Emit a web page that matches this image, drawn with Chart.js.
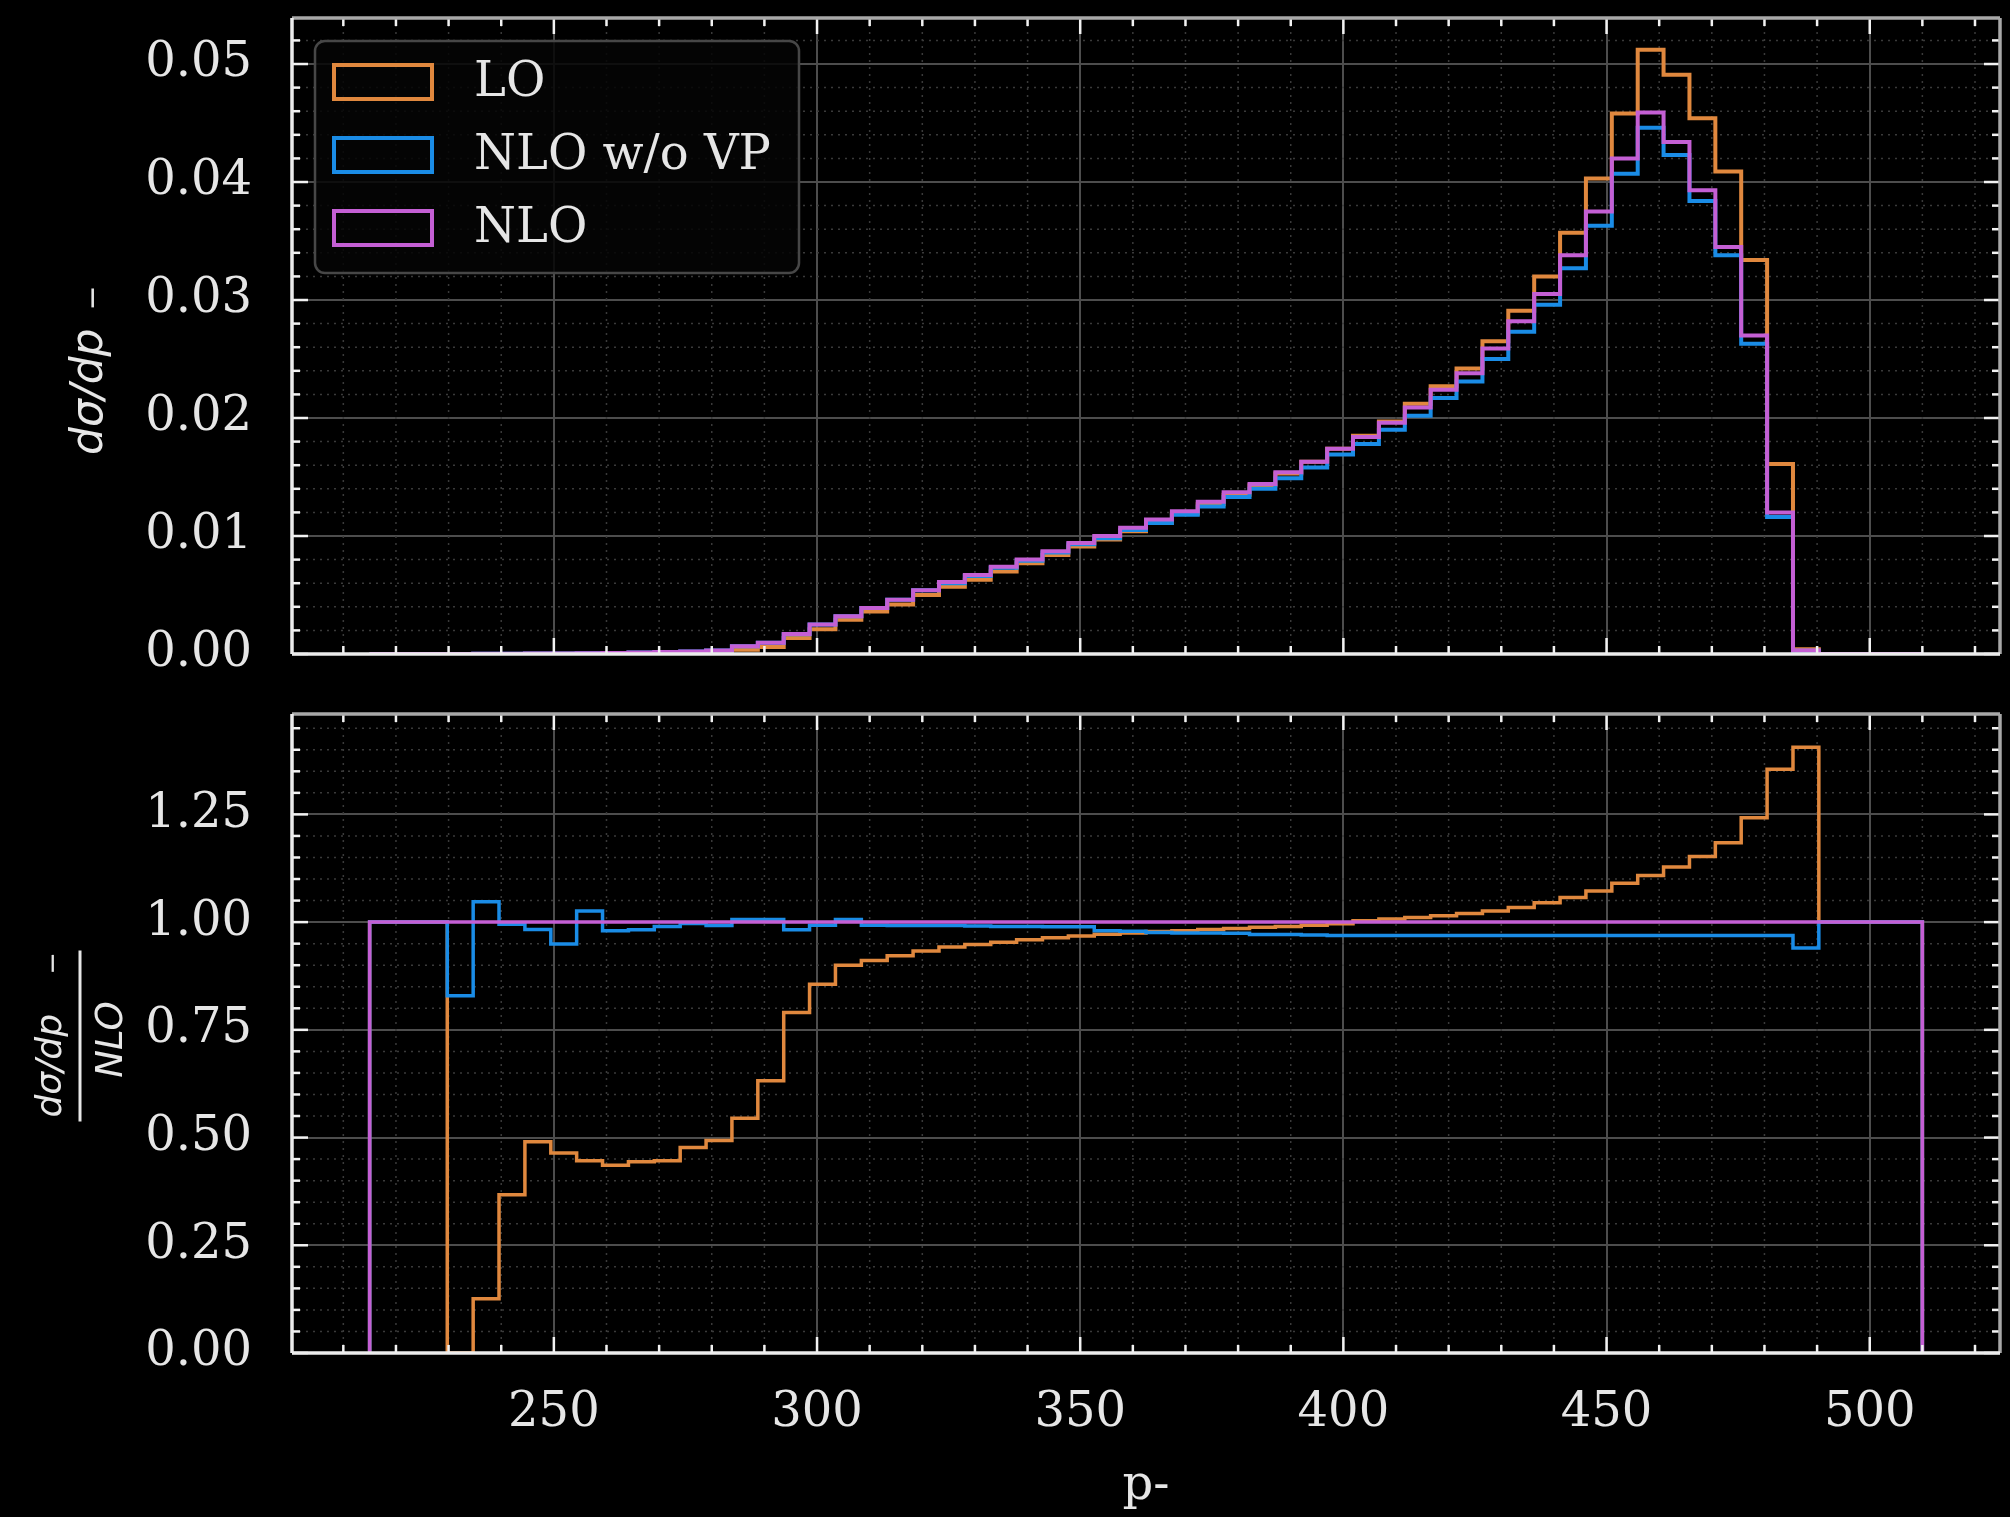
<!DOCTYPE html>
<html>
<head>
<meta charset="utf-8">
<script src="https://cdn.jsdelivr.net/npm/chart.js@4.4.1/dist/chart.umd.min.js"></script>
<style>
  html, body { margin: 0; padding: 0; background: #000; }
  #wrap { position: relative; width: 2010px; height: 1517px; background: #000; }
  #chartTop { position: absolute; left: 0; top: 0; }
  #chartRatio { position: absolute; left: 0; top: 690px; }
</style>
</head>
<body>
<div id="wrap">
  <canvas id="chartTop" width="2010" height="690"></canvas>
  <canvas id="chartRatio" width="2010" height="827"></canvas>
</div>
<script>
// bin edges in p- (60 bins between 215 and 510)
const binEdges = [
  215.00, 219.92, 224.83, 229.75, 234.67, 239.58, 244.50, 249.42, 254.33, 259.25,
  264.17, 269.08, 274.00, 278.92, 283.83, 288.75, 293.67, 298.58, 303.50, 308.42,
  313.33, 318.25, 323.17, 328.08, 333.00, 337.92, 342.83, 347.75, 352.67, 357.58,
  362.50, 367.42, 372.33, 377.25, 382.17, 387.08, 392.00, 396.92, 401.83, 406.75,
  411.67, 416.58, 421.50, 426.42, 431.33, 436.25, 441.17, 446.08, 451.00, 455.92,
  460.83, 465.75, 470.67, 475.58, 480.50, 485.42, 490.33, 495.25, 500.17, 505.08,
  510.00
];

// dsigma/dp- per bin
const loValues = [
  0, 0, 0, 0, 0.000003, 0.00001, 0.00002, 0.000023, 0.00003, 0.00004,
  0.000053, 0.00007, 0.0001, 0.00015, 0.00035, 0.0006, 0.00135, 0.0021, 0.0029, 0.0036,
  0.0042, 0.0050, 0.0057, 0.0063, 0.0070, 0.0077, 0.0084, 0.0091, 0.0097, 0.0104,
  0.0111, 0.0119, 0.0127, 0.0135, 0.0143, 0.0153, 0.0163, 0.0174, 0.0185, 0.0197,
  0.0212, 0.0227, 0.0242, 0.0265, 0.0291, 0.0320, 0.0357, 0.0403, 0.0458, 0.0512,
  0.0491, 0.0454, 0.0409, 0.0334, 0.0161, 0.0004, 0, 0, 0, 0
];
const nloNoVpValues = [
  0, 0, 0, 0.000008, 0.000021, 0.00003, 0.000039, 0.000047, 0.000072, 0.000088,
  0.000118, 0.000158, 0.00022, 0.0003, 0.00065, 0.00096, 0.00167, 0.0025, 0.0032, 0.0039,
  0.0046, 0.0054, 0.0060, 0.0066, 0.0073, 0.0079, 0.0086, 0.0093, 0.0098, 0.0105,
  0.0111, 0.0118, 0.0125, 0.0133, 0.0140, 0.0149, 0.0158, 0.0169, 0.0178, 0.0190,
  0.0202, 0.0217, 0.0231, 0.0250, 0.0273, 0.0296, 0.0327, 0.0363, 0.0407, 0.0446,
  0.0423, 0.0384, 0.0338, 0.0263, 0.0116, 0.00028, 0, 0, 0, 0
];
const nloValues = [
  0, 0, 0, 0.00001, 0.00002, 0.00003, 0.00004, 0.00005, 0.00007, 0.00009,
  0.00012, 0.00016, 0.00022, 0.0003, 0.00065, 0.00095, 0.0017, 0.0025, 0.0032, 0.0039,
  0.0046, 0.0054, 0.0061, 0.0067, 0.0074, 0.0080, 0.0087, 0.0094, 0.0100, 0.0107,
  0.0114, 0.0121, 0.0129, 0.0137, 0.0144, 0.0154, 0.0163, 0.0174, 0.0184, 0.0196,
  0.0209, 0.0224, 0.0238, 0.0259, 0.0282, 0.0305, 0.0338, 0.0375, 0.0420, 0.0459,
  0.0434, 0.0393, 0.0345, 0.0270, 0.0120, 0.0003, 0, 0, 0, 0
];

// ratios to NLO per bin
const ratioLo = [
  1, 1, 1, 0, 0.126, 0.367, 0.490, 0.464, 0.446, 0.436,
  0.444, 0.446, 0.477, 0.493, 0.545, 0.632, 0.790, 0.856, 0.900, 0.911,
  0.922, 0.933, 0.942, 0.948, 0.953, 0.959, 0.964, 0.968, 0.972, 0.975,
  0.978, 0.980, 0.983, 0.985, 0.988, 0.990, 0.993, 0.996, 1.003, 1.007,
  1.011, 1.015, 1.020, 1.026, 1.034, 1.045, 1.057, 1.072, 1.090, 1.108,
  1.128, 1.152, 1.184, 1.242, 1.355, 1.406, 1, 1, 1, 1
];
const ratioNoVp = [
  1, 1, 1, 0.829, 1.047, 0.995, 0.983, 0.949, 1.026, 0.980,
  0.982, 0.990, 0.997, 0.992, 1.006, 1.006, 0.982, 0.993, 1.006, 0.993,
  0.992, 0.992, 0.992, 0.991, 0.990, 0.990, 0.989, 0.989, 0.980, 0.979,
  0.976, 0.975, 0.975, 0.974, 0.971, 0.971, 0.970, 0.969, 0.969, 0.969,
  0.969, 0.969, 0.969, 0.969, 0.969, 0.969, 0.969, 0.969, 0.969, 0.969,
  0.969, 0.969, 0.969, 0.969, 0.969, 0.940, 1, 1, 1, 1
];
const ratioNlo = [
  1, 1, 1, 1, 1, 1, 1, 1, 1, 1,
  1, 1, 1, 1, 1, 1, 1, 1, 1, 1,
  1, 1, 1, 1, 1, 1, 1, 1, 1, 1,
  1, 1, 1, 1, 1, 1, 1, 1, 1, 1,
  1, 1, 1, 1, 1, 1, 1, 1, 1, 1,
  1, 1, 1, 1, 1, 1, 1, 1, 1, 1
];

const xTicks = [250, 300, 350, 400, 450, 500];
const yTicksTop = [0, 0.01, 0.02, 0.03, 0.04, 0.05];
const yTicksRatio = [0, 0.25, 0.5, 0.75, 1.0, 1.25];
const seriesNames = ["LO", "NLO w/o VP", "NLO"];
const seriesColors = ["#e0883e", "#1a8ce6", "#c45fd4"];

// minor tick positions
function minorTicks(from, to, step, majors) {
  const out = [];
  for (let i = 0; from + i * step <= to + 1e-9; i++) {
    const v = +(from + i * step).toFixed(6);
    if (!majors.some(m => Math.abs(m - v) < 1e-9)) out.push(v);
  }
  return out;
}
const xMinor = minorTicks(210, 520, 10, xTicks);
const yMinorTop = minorTicks(0, 0.052, 0.002, yTicksTop);
const yMinorRatio = minorTicks(0, 1.45, 0.05, yTicksRatio);

const textColor = "#e6e6e6";
const serif = "'DejaVu Serif', serif";

// histogram outline: up from 0 at first edge, one step per bin, down to 0 at last edge
function stepPoints(values) {
  const pts = [{ x: binEdges[0], y: 0 }];
  values.forEach((v, i) => pts.push({ x: binEdges[i], y: v }));
  pts.push({ x: binEdges[binEdges.length - 1], y: 0 });
  return pts;
}

function makeDatasets(seriesList, width) {
  return seriesList.map((vals, i) => ({
    label: seriesNames[i],
    data: stepPoints(vals),
    borderColor: seriesColors[i],
    backgroundColor: seriesColors[i],
    borderWidth: width,
    stepped: "before",
    pointRadius: 0,
    fill: false,
    order: seriesNames.length - i
  }));
}

function setTicks(values) {
  return function (scale) {
    scale.ticks = values.map(v => ({ value: v }));
  };
}

// minor dotted grid, inward ticks on all sides, spines
const framePlugin = {
  id: "frame",
  beforeDatasetsDraw(chart, args, o) {
    const { ctx, chartArea: a, scales: { x, y } } = chart;
    ctx.save();
    ctx.strokeStyle = "#3a3a3a";
    ctx.lineWidth = 1.5;
    ctx.setLineDash([2, 5]);
    o.xMinor.forEach(v => {
      const p = x.getPixelForValue(v);
      ctx.beginPath(); ctx.moveTo(p, a.top); ctx.lineTo(p, a.bottom); ctx.stroke();
    });
    o.yMinor.forEach(v => {
      const p = y.getPixelForValue(v);
      ctx.beginPath(); ctx.moveTo(a.left, p); ctx.lineTo(a.right, p); ctx.stroke();
    });
    ctx.restore();
  },
  afterDraw(chart, args, o) {
    const { ctx, chartArea: a, scales: { x, y } } = chart;
    const seg = (x1, y1, x2, y2) => {
      ctx.beginPath(); ctx.moveTo(x1, y1); ctx.lineTo(x2, y2); ctx.stroke();
    };
    ctx.save();
    ctx.strokeStyle = "#f2f2f2";
    ctx.lineWidth = 2.5;
    [[o.xMajor, 16], [o.xMinor, 8]].forEach(([list, len]) => list.forEach(v => {
      const p = x.getPixelForValue(v);
      seg(p, a.bottom, p, a.bottom - len);
      seg(p, a.top, p, a.top + len);
    }));
    [[o.yMajor, 16], [o.yMinor, 8]].forEach(([list, len]) => list.forEach(v => {
      const p = y.getPixelForValue(v);
      if (p < a.top - 1 || p > a.bottom + 1) return;
      seg(a.left, p, a.left + len, p);
      seg(a.right, p, a.right - len, p);
    }));
    ctx.lineWidth = 3.5;
    ctx.strokeStyle = "#a8a8a8";
    seg(a.left, a.top, a.right, a.top);
    seg(a.right, a.top, a.right, a.bottom);
    ctx.strokeStyle = "#ececec";
    seg(a.left, a.bottom, a.right, a.bottom);
    seg(a.left, a.top, a.left, a.bottom);
    ctx.restore();
  }
};

function xScale(showLabels, height) {
  return {
    type: "linear",
    min: 200.25,
    max: 524.75,
    afterBuildTicks: setTicks(xTicks),
    afterFit: s => {
      s.height = height;
      s.paddingLeft = 0; s.paddingRight = 0; s.paddingTop = 0; s.paddingBottom = 0;
    },
    grid: { color: "#4d4d4d", lineWidth: 2, drawTicks: false },
    border: { display: false },
    ticks: {
      display: showLabels,
      autoSkip: false,
      maxRotation: 0,
      padding: 32,
      color: textColor,
      font: { family: serif, size: 48 },
      callback: v => String(v)
    },
    title: showLabels ? {
      display: true,
      text: "p-",
      color: textColor,
      font: { family: serif, size: 48 },
      padding: { top: 0, bottom: 2 }
    } : { display: false }
  };
}

function yScale(max, ticks) {
  return {
    type: "linear",
    min: 0,
    max: max,
    afterBuildTicks: setTicks(ticks),
    afterFit: s => {
      s.width = 292;
      s.paddingLeft = 0; s.paddingRight = 0; s.paddingTop = 0; s.paddingBottom = 0;
    },
    grid: { color: "#4d4d4d", lineWidth: 2, drawTicks: false },
    border: { display: false },
    ticks: {
      padding: 40,
      color: textColor,
      font: { family: serif, size: 48 },
      callback: v => Number(v).toFixed(2)
    }
  };
}

// legend inside the top panel
const legendPlugin = {
  id: "boxLegend",
  afterDraw(chart) {
    const ctx = chart.ctx;
    ctx.save();
    ctx.beginPath();
    ctx.roundRect(315, 41, 484, 232, 10);
    ctx.fillStyle = "rgba(5,5,5,0.85)";
    ctx.fill();
    ctx.strokeStyle = "#474747";
    ctx.lineWidth = 2.5;
    ctx.stroke();
    seriesNames.forEach((name, i) => {
      const cy = 82 + i * 73;
      ctx.strokeStyle = seriesColors[i];
      ctx.lineWidth = 4;
      ctx.strokeRect(334, cy - 17, 98, 34);
      ctx.fillStyle = textColor;
      ctx.font = "48px " + serif;
      ctx.textBaseline = "middle";
      ctx.textAlign = "left";
      ctx.fillText(name, 474, cy + 2);
    });
    ctx.restore();
  }
};

const topLabelPlugin = {
  id: "topYLabel",
  afterDraw(chart) {
    const ctx = chart.ctx;
    ctx.save();
    ctx.translate(102, 372);
    ctx.rotate(-Math.PI / 2);
    ctx.fillStyle = textColor;
    ctx.textBaseline = "alphabetic";
    ctx.font = "italic 44px 'DejaVu Sans'";
    ctx.textAlign = "left";
    ctx.fillText("dσ/dp", -83, 0);
    ctx.font = "30px 'DejaVu Sans'";
    ctx.textAlign = "center";
    ctx.fillText("−", 74, 0);
    ctx.restore();
  }
};

const ratioLabelPlugin = {
  id: "ratioYLabel",
  afterDraw(chart) {
    const ctx = chart.ctx;
    const a = chart.chartArea;
    ctx.save();
    ctx.translate(80, (a.top + a.bottom) / 2);
    ctx.rotate(-Math.PI / 2);
    ctx.fillStyle = textColor;
    ctx.textBaseline = "alphabetic";
    ctx.font = "italic 36px 'DejaVu Sans'";
    ctx.textAlign = "left";
    ctx.fillText("dσ/dp", -84, -19);
    ctx.font = "27px 'DejaVu Sans'";
    ctx.textAlign = "center";
    ctx.fillText("−", 70, -19);
    ctx.font = "italic 37px 'DejaVu Sans'";
    ctx.fillText("NLO", -6, 42);
    ctx.fillRect(-88, -1.5, 171, 3);
    ctx.restore();
  }
};

Chart.defaults.animation = false;

new Chart(document.getElementById("chartTop"), {
  type: "line",
  data: { datasets: makeDatasets([loValues, nloNoVpValues, nloValues], 4) },
  options: {
    responsive: false,
    layout: { padding: { top: 18, right: 10, left: 0, bottom: 0 } },
    plugins: {
      legend: { display: false },
      tooltip: { enabled: false },
      frame: { xMajor: xTicks, xMinor: xMinor, yMajor: yTicksTop, yMinor: yMinorTop }
    },
    scales: {
      x: xScale(false, 36),
      y: yScale(0.0539, yTicksTop)
    }
  },
  plugins: [framePlugin, legendPlugin, topLabelPlugin]
});

new Chart(document.getElementById("chartRatio"), {
  type: "line",
  data: { datasets: makeDatasets([ratioLo, ratioNoVp, ratioNlo], 3.5) },
  options: {
    responsive: false,
    layout: { padding: { top: 24, right: 10, left: 0, bottom: 0 } },
    plugins: {
      legend: { display: false },
      tooltip: { enabled: false },
      frame: { xMajor: xTicks, xMinor: xMinor, yMajor: yTicksRatio, yMinor: yMinorRatio }
    },
    scales: {
      x: xScale(true, 164),
      y: yScale(1.483, yTicksRatio)
    }
  },
  plugins: [framePlugin, ratioLabelPlugin]
});
</script>
</body>
</html>
